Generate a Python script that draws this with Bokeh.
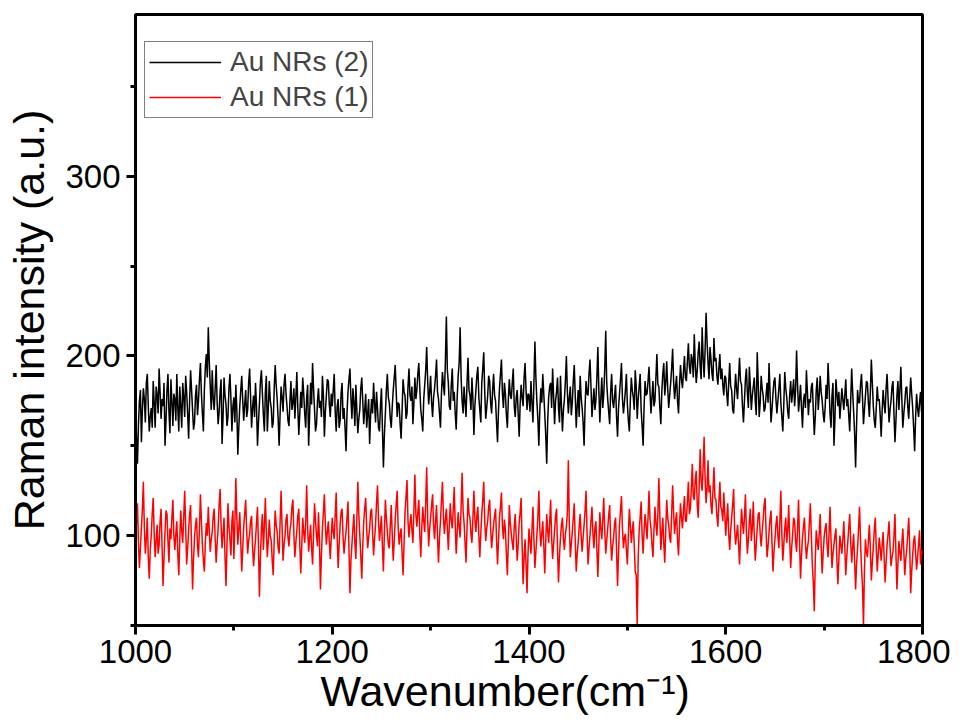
import numpy as np
from bokeh.plotting import figure
from bokeh.models import Range1d, SingleIntervalTicker, Legend, LegendItem, ColumnDataSource
from bokeh.embed import file_html
from bokeh.resources import INLINE

# ---------------- data ----------------
wavenumber_start = 1000
wavenumber_end = 1800

# Au NRs (2) - black trace, one value per cm-1
au_nrs_2 = [
    168, 155, 140, 162, 175, 181, 152, 170, 182, 176, 163, 185, 190, 172, 158, 166, 171, 160, 186, 174, 160, 183, 178, 168, 193, 180, 165, 176, 172, 185, 150, 164, 181, 190, 169, 157, 187, 175, 161, 179,
    176, 164, 190, 171, 158, 183, 172, 160, 185, 177, 166, 189, 180, 168, 154, 175, 192, 181, 170, 159, 163, 178, 184, 167, 175, 187, 196, 179, 168, 158, 181, 194, 201, 188, 216, 197, 183, 170, 192, 176,
    170, 182, 195, 174, 162, 169, 180, 187, 151, 166, 188, 178, 173, 161, 166, 182, 190, 176, 158, 172, 177, 163, 184, 170, 145, 160, 172, 181, 189, 175, 164, 173, 181, 166, 170, 185, 193, 177, 160, 171,
    178, 166, 185, 172, 150, 163, 174, 186, 192, 179, 167, 158, 180, 189, 158, 171, 186, 175, 171, 160, 163, 182, 195, 184, 176, 165, 150, 168, 183, 177, 169, 184, 190, 179, 172, 164, 161, 175, 186, 170,
    174, 182, 165, 177, 191, 171, 156, 168, 180, 171, 188, 179, 168, 160, 177, 184, 150, 167, 185, 173, 196, 182, 170, 158, 162, 175, 182, 171, 175, 166, 189, 178, 155, 169, 178, 187, 186, 173, 166, 179,
    172, 181, 190, 169, 158, 172, 176, 160, 164, 179, 185, 165, 171, 160, 147, 168, 180, 187, 193, 176, 165, 182, 174, 161, 184, 170, 157, 165, 170, 182, 188, 175, 162, 170, 179, 160, 168, 176, 151, 167,
    176, 168, 185, 174, 163, 180, 171, 160, 158, 172, 182, 160, 138, 156, 168, 181, 190, 177, 174, 165, 160, 172, 181, 188, 195, 180, 166, 174, 173, 162, 154, 170, 187, 180, 178, 165, 168, 183, 193, 178,
    175, 183, 162, 174, 188, 176, 181, 190, 196, 182, 170, 165, 158, 176, 184, 192, 205, 186, 173, 180, 189, 174, 166, 177, 182, 189, 198, 180, 176, 168, 160, 179, 191, 184, 178, 197, 222, 192, 185, 172,
    170, 184, 193, 175, 180, 168, 159, 177, 189, 196, 216, 188, 175, 168, 183, 174, 166, 185, 199, 181, 178, 170, 188, 176, 156, 172, 181, 189, 194, 177, 170, 163, 185, 193, 202, 180, 165, 171, 178, 189,
    186, 174, 168, 181, 190, 178, 175, 163, 152, 170, 182, 190, 198, 179, 171, 185, 179, 167, 160, 176, 187, 178, 176, 185, 193, 172, 166, 177, 181, 168, 155, 173, 184, 177, 172, 188, 196, 181, 170, 179,
    178, 169, 186, 174, 163, 185, 208, 188, 175, 165, 150, 170, 182, 174, 190, 179, 168, 156, 140, 164, 177, 183, 185, 171, 193, 178, 162, 175, 180, 188, 171, 163, 189, 172, 158, 170, 176, 186, 200, 180,
    168, 177, 183, 167, 174, 186, 195, 178, 160, 172, 181, 166, 189, 177, 171, 163, 150, 172, 186, 179, 178, 190, 198, 183, 166, 174, 182, 170, 175, 188, 205, 181, 163, 176, 188, 171, 179, 193, 214, 185,
    176, 169, 162, 180, 190, 175, 171, 178, 184, 166, 155, 171, 179, 187, 196, 176, 168, 174, 181, 190, 173, 164, 158, 175, 188, 181, 177, 170, 192, 183, 165, 176, 183, 190, 170, 161, 150, 172, 186, 178,
    179, 186, 194, 180, 168, 177, 186, 172, 175, 188, 201, 184, 183, 171, 162, 180, 190, 196, 178, 185, 197, 182, 171, 178, 185, 193, 204, 186, 176, 183, 189, 175, 168, 184, 195, 187, 182, 191, 200, 188,
    186, 197, 207, 194, 190, 201, 198, 188, 212, 195, 185, 192, 202, 208, 194, 187, 216, 199, 188, 203, 224, 208, 196, 187, 205, 198, 190, 186, 210, 197, 199, 189, 184, 193, 201, 187, 193, 184, 178, 189,
    188, 179, 172, 185, 196, 183, 181, 170, 168, 179, 190, 182, 176, 188, 199, 186, 184, 172, 163, 175, 187, 193, 179, 171, 194, 183, 170, 178, 183, 188, 175, 167, 202, 185, 166, 174, 189, 182, 178, 169,
    171, 178, 185, 174, 196, 180, 163, 170, 179, 186, 188, 176, 168, 175, 182, 190, 174, 166, 158, 173, 191, 182, 177, 169, 165, 178, 186, 174, 180, 187, 172, 181, 203, 184, 169, 176, 184, 171, 160, 175,
    179, 171, 192, 180, 167, 176, 174, 183, 185, 170, 156, 166, 181, 188, 170, 178, 189, 180, 175, 168, 163, 171, 184, 176, 196, 183, 168, 160, 178, 185, 150, 165, 187, 179, 172, 180, 165, 173, 182, 176,
    170, 178, 187, 172, 176, 167, 158, 175, 193, 180, 169, 157, 138, 162, 181, 174, 174, 184, 190, 177, 162, 170, 178, 186, 185, 174, 166, 180, 198, 185, 172, 164, 160, 171, 183, 175, 176, 167, 155, 170,
    181, 173, 168, 182, 190, 176, 163, 170, 175, 183, 186, 168, 152, 164, 178, 186, 170, 181, 194, 176, 160, 168, 174, 182, 183, 172, 165, 177, 188, 179, 171, 160, 147, 166, 179, 171, 166, 174, 180, 169,
    172,
]

# Au NRs (1) - red trace, one value per cm-1
au_nrs_1 = [
    95, 108, 118, 96, 82, 93, 104, 115, 130, 104, 90, 99, 110, 88, 76, 92, 100, 112, 121, 101, 88, 97, 106, 90, 95, 108, 115, 94, 72, 88, 102, 114, 112, 97, 85, 104, 98, 110, 120, 100,
    92, 101, 108, 90, 78, 97, 114, 103, 96, 110, 125, 105, 84, 93, 103, 112, 117, 94, 70, 87, 99, 106, 110, 95, 88, 104, 123, 108, 95, 86, 80, 96, 107, 100, 116, 103, 91, 98, 102, 111,
    115, 98, 85, 96, 104, 117, 126, 106, 93, 101, 110, 88, 72, 95, 118, 105, 98, 89, 108, 114, 87, 106, 132, 110, 95, 104, 113, 96, 80, 93, 105, 112, 120, 103, 90, 97, 101, 108, 111, 94,
    83, 91, 98, 107, 116, 94, 66, 88, 104, 112, 92, 105, 121, 102, 88, 97, 109, 100, 97, 86, 78, 98, 114, 106, 102, 93, 90, 108, 125, 105, 86, 95, 100, 109, 112, 99, 94, 103, 107, 116,
    120, 101, 88, 96, 103, 111, 115, 95, 79, 94, 110, 102, 96, 107, 128, 104, 91, 99, 106, 93, 84, 101, 118, 108, 100, 94, 113, 97, 70, 89, 104, 113, 123, 106, 95, 102, 108, 97, 87, 99,
    110, 102, 98, 111, 124, 100, 82, 95, 106, 113, 115, 99, 90, 97, 102, 110, 119, 93, 68, 86, 95, 104, 112, 96, 87, 109, 130, 112, 100, 89, 76, 94, 108, 115, 121, 104, 93, 99, 104, 113,
    115, 102, 89, 98, 106, 118, 128, 109, 97, 104, 111, 94, 80, 101, 120, 110, 102, 95, 93, 106, 117, 100, 86, 97, 109, 117, 125, 105, 95, 101, 104, 90, 78, 96, 113, 122, 131, 108, 99, 107,
    112, 103, 96, 114, 134, 112, 105, 113, 120, 101, 88, 104, 116, 108, 102, 118, 138, 110, 94, 104, 110, 117, 123, 106, 98, 108, 117, 100, 85, 99, 108, 119, 130, 111, 101, 109, 115, 104, 92, 106,
    118, 108, 104, 115, 127, 106, 90, 102, 113, 105, 99, 116, 135, 114, 107, 96, 85, 104, 121, 112, 110, 101, 96, 110, 125, 109, 102, 111, 116, 100, 88, 101, 112, 120, 130, 108, 97, 104, 108, 116,
    120, 104, 93, 100, 106, 111, 115, 98, 84, 97, 110, 116, 124, 105, 98, 109, 103, 90, 78, 96, 117, 107, 101, 96, 92, 105, 112, 99, 86, 95, 107, 113, 121, 95, 73, 88, 98, 84, 68, 90,
    104, 97, 90, 103, 116, 98, 82, 91, 100, 110, 125, 104, 94, 101, 108, 95, 79, 96, 112, 103, 96, 107, 120, 99, 87, 95, 103, 111, 115, 92, 74, 89, 99, 106, 110, 98, 92, 101, 105, 113,
    142, 106, 88, 95, 102, 110, 118, 97, 80, 90, 96, 105, 112, 100, 91, 99, 106, 114, 125, 102, 84, 93, 100, 108, 116, 101, 93, 104, 108, 92, 77, 95, 113, 104, 98, 109, 121, 103, 90, 97,
    104, 111, 117, 98, 86, 94, 99, 107, 110, 92, 72, 90, 106, 114, 122, 104, 93, 99, 101, 92, 84, 100, 115, 106, 96, 103, 108, 94, 80, 78, 50, 88, 103, 110, 119, 100, 90, 103, 112, 105,
    98, 110, 125, 109, 104, 95, 88, 103, 116, 107, 100, 112, 132, 111, 92, 101, 110, 96, 85, 103, 120, 110, 106, 99, 96, 112, 128, 113, 101, 108, 113, 97, 89, 105, 118, 110, 104, 114, 122, 108,
    108, 119, 130, 112, 115, 126, 140, 122, 120, 131, 136, 117, 110, 128, 148, 130, 125, 138, 155, 132, 118, 126, 142, 124, 128, 117, 112, 125, 138, 121, 120, 111, 105, 118, 130, 116, 114, 108, 124, 112,
    100, 109, 118, 101, 92, 103, 110, 117, 126, 104, 95, 100, 106, 96, 84, 99, 115, 108, 101, 110, 123, 102, 90, 98, 108, 115, 97, 104, 119, 100, 86, 95, 104, 112, 113, 101, 94, 102, 109, 117,
    121, 102, 88, 94, 102, 109, 114, 96, 80, 91, 98, 106, 111, 100, 93, 108, 125, 101, 86, 95, 104, 110, 96, 103, 117, 98, 82, 93, 101, 110, 108, 97, 91, 104, 120, 97, 76, 89, 99, 105,
    110, 96, 87, 93, 97, 107, 118, 100, 84, 74, 58, 86, 103, 97, 92, 101, 112, 94, 79, 90, 99, 104, 107, 95, 88, 101, 116, 98, 82, 90, 95, 100, 104, 86, 73, 87, 100, 95, 90, 98,
    108, 94, 78, 88, 96, 104, 112, 97, 85, 93, 101, 86, 70, 84, 93, 104, 116, 97, 82, 72, 50, 81, 98, 91, 88, 97, 106, 92, 75, 85, 94, 103, 110, 93, 80, 90, 99, 93, 86, 95,
    102, 88, 74, 85, 95, 101, 108, 94, 83, 88, 91, 100, 112, 90, 70, 84, 97, 91, 86, 95, 104, 92, 78, 87, 92, 101, 110, 94, 68, 80, 89, 97, 100, 90, 81, 88, 95, 103, 84, 92,
    90,
]

series_names = ["Au NRs (2)", "Au NRs (1)"]
series_colors = ["#000000", "#ff0000"]
x_tick_interval = 200
y_tick_interval = 100
y_min, y_max = 50, 390

x_label = "Wavenumber(cm\u207b\u00b9)"
y_label = "Raman intensity (a.u.)"

SANS = "Liberation Sans"

# ---------------- figure ----------------
W, H = 950, 725
p = figure(width=W, height=H, output_backend="svg", toolbar_location=None,
           x_range=Range1d(wavenumber_start, wavenumber_end), y_range=Range1d(y_min, y_max),
           min_border_left=135, min_border_right=28, min_border_top=14, min_border_bottom=100)
p.background_fill_color = "white"
p.border_fill_color = "white"
p.xgrid.visible = False
p.ygrid.visible = False
p.outline_line_color = "black"
p.outline_line_width = 3
p.outline_line_alpha = 1

src2 = ColumnDataSource(dict(x=np.linspace(wavenumber_start, wavenumber_end, len(au_nrs_2)), y=au_nrs_2))
src1 = ColumnDataSource(dict(x=np.linspace(wavenumber_start, wavenumber_end, len(au_nrs_1)), y=au_nrs_1))
r1 = p.line("x", "y", source=src1, line_color=series_colors[1], line_width=1.5)
r2 = p.line("x", "y", source=src2, line_color=series_colors[0], line_width=1.5)

p.xaxis.ticker = SingleIntervalTicker(interval=x_tick_interval, num_minor_ticks=2)
p.yaxis.ticker = SingleIntervalTicker(interval=y_tick_interval, num_minor_ticks=2)

for ax in (p.xaxis[0], p.yaxis[0]):
    ax.axis_line_width = 3
    ax.major_tick_line_width = 3
    ax.minor_tick_line_width = 3
    ax.major_tick_in = 0
    ax.minor_tick_in = 0
    ax.major_tick_out = 9
    ax.minor_tick_out = 5
    ax.major_label_text_font = SANS
    ax.major_label_text_font_size = "33px"
    ax.major_label_text_color = "black"
    ax.axis_label_text_font = SANS
    ax.axis_label_text_font_size = "43px"
    ax.axis_label_text_font_style = "normal"
    ax.axis_label_text_color = "black"
p.xaxis.major_label_standoff = 5
p.yaxis.major_label_standoff = 6
# trailing no-break spaces shift the centred title a little to the left, as in the original
p.xaxis.axis_label = x_label + "\u00a0" * 4
p.xaxis.axis_label_standoff = 1
p.yaxis.axis_label = y_label
p.yaxis.axis_label_standoff = 9

legend = Legend(items=[LegendItem(label=series_names[0], renderers=[r2]),
                       LegendItem(label=series_names[1], renderers=[r1])],
                location=(9, 507), padding=4, spacing=3, margin=0,
                glyph_width=72, glyph_height=20, label_height=20, label_standoff=9,
                label_text_font=SANS, label_text_font_size="28px",
                border_line_color="black", border_line_width=1,
                background_fill_alpha=1)
p.add_layout(legend)

open("out.html", "w").write(file_html(p, INLINE))
